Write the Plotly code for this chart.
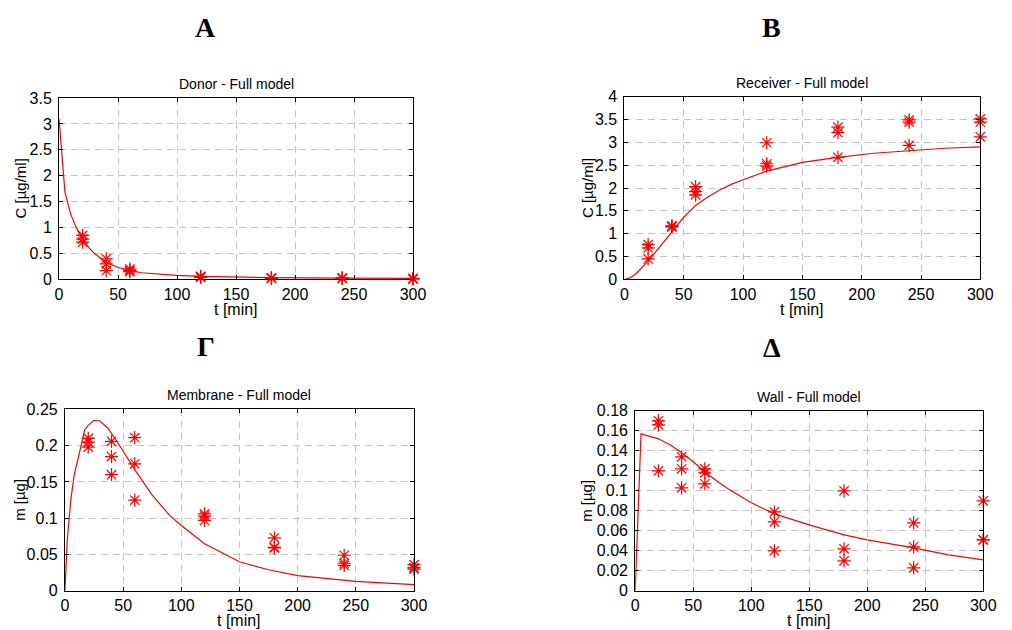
import plotly.graph_objects as go

# Sampling times of the measurements (min), three replicates per time
t_obs = [20, 40, 60, 120, 180, 240, 300]

# Donor compartment concentration C [µg/ml]
donor_obs = [
    [0.85, 0.78, 0.72],
    [0.40, 0.30, 0.17],
    [0.20, 0.17, 0.15],
    [0.06, 0.05, 0.04],
    [0.03, 0.03, 0.02],
    [0.03, 0.02, 0.02],
    [0.02, 0.01, 0.01],
]
donor_t = [0, 5, 10, 15, 20, 25, 30, 40, 50, 60, 70, 80, 100, 120, 150, 180, 240, 300]
donor_fit = [3.1, 1.68, 1.25, 0.98, 0.78, 0.62, 0.5, 0.33, 0.23, 0.17, 0.13, 0.11,
             0.08, 0.06, 0.045, 0.035, 0.025, 0.02]

# Receiver compartment concentration C [µg/ml]
receiver_obs = [
    [0.76, 0.69, 0.45],
    [1.17, 1.16, 1.15],
    [2.03, 1.92, 1.85],
    [2.99, 2.53, 2.48],
    [3.33, 3.21, 2.67],
    [3.49, 3.44, 2.93],
    [3.51, 3.44, 3.12],
]
receiver_t = [0, 5, 10, 20, 30, 40, 50, 60, 70, 80, 90, 100, 120, 150, 180, 210, 240, 270, 300]
receiver_fit = [0, 0.04, 0.13, 0.40, 0.72, 1.04, 1.36, 1.62, 1.80, 1.95, 2.08, 2.18, 2.37,
                2.56, 2.67, 2.76, 2.82, 2.87, 2.9]

# Amount retained in the membrane m [µg]
membrane_obs = [
    [0.210, 0.205, 0.198],
    [0.206, 0.185, 0.160],
    [0.211, 0.175, 0.125],
    [0.106, 0.103, 0.097],
    [0.073, 0.060, 0.059],
    [0.049, 0.038, 0.035],
    [0.036, 0.032, 0.030],
]
membrane_t = [0, 2, 5, 8, 12, 17, 20, 25, 30, 37, 45, 50, 60, 75, 90, 100, 120, 150,
              175, 200, 250, 300]
membrane_fit = [0, 0.07, 0.125, 0.16, 0.187, 0.222, 0.228, 0.235, 0.234, 0.224, 0.205,
                0.192, 0.167, 0.132, 0.104, 0.090, 0.065, 0.040, 0.029, 0.021, 0.013,
                0.0085]

# Amount adsorbed on the cell wall m [µg]
wall_obs = [
    [0.170, 0.166, 0.120],
    [0.134, 0.122, 0.103],
    [0.122, 0.118, 0.107],
    [0.079, 0.069, 0.040],
    [0.100, 0.042, 0.030],
    [0.068, 0.044, 0.023],
    [0.090, 0.051, 0.051],
]
wall_t = [0, 5, 20, 30, 40, 50, 60, 70, 80, 100, 120, 150, 180, 200, 240, 270, 300]
wall_fit = [0, 0.157, 0.152, 0.146, 0.138, 0.129, 0.119, 0.110, 0.102, 0.088, 0.077,
            0.066, 0.056, 0.051, 0.043, 0.036, 0.031]

titles = ["Donor - Full model", "Receiver - Full model",
          "Membrane - Full model", "Wall - Full model"]
ylabels = ["C [µg/ml]", "C [µg/ml]", "m [µg]", "m [µg]"]
letters = ["A", "B", "Γ", "Δ"]
y_ranges = [[0, 3.5], [0, 4], [0, 0.25], [0, 0.18]]
y_dticks = [0.5, 0.5, 0.05, 0.02]

W, H = 1012, 630
# plot boxes in pixels: (left, right, top, bottom)
boxes = [(56, 416, 92.5, 279), (631, 993, 91, 279),
         (62, 417, 412.5, 599), (642, 996, 414, 599)]
# horizontal centre of each rotated y-axis title, in pixels
ylabel_x = [17, 593, 15, 593]

panels = [
    (donor_obs, donor_t, donor_fit),
    (receiver_obs, receiver_t, receiver_fit),
    (membrane_obs, membrane_t, membrane_fit),
    (wall_obs, wall_t, wall_fit),
]

RED = "#ff0000"
fig = go.Figure()
layout = dict(
    width=W, height=H, margin=dict(l=0, r=0, t=0, b=0),
    paper_bgcolor="white", plot_bgcolor="white", showlegend=False,
    font=dict(family="Liberation Sans, Arial, sans-serif", size=16, color="black"),
)
annotations = []

for i, ((obs, tf, yf), box) in enumerate(zip(panels, boxes)):
    n = i + 1
    xa = "x" if n == 1 else f"x{n}"
    ya = "y" if n == 1 else f"y{n}"
    l, r, top, bot = box
    xdom = [l / W, r / W]
    ydom = [1 - bot / H, 1 - top / H]

    xs, ys = [], []
    for t, reps in zip(t_obs, obs):
        for v in reps:
            xs.append(t)
            ys.append(v)

    fig.add_trace(go.Scatter(x=tf, y=yf, mode="lines",
                             line=dict(color=RED, width=1.2),
                             xaxis=xa, yaxis=ya))
    fig.add_trace(go.Scatter(x=xs, y=ys, mode="markers",
                             marker=dict(symbol="asterisk-open", size=11, color=RED,
                                         line=dict(color=RED, width=1.2)),
                             xaxis=xa, yaxis=ya, cliponaxis=False))

    axis_common = dict(
        showline=True, linecolor="black", linewidth=1, mirror="ticks",
        ticks="inside", ticklen=4, tickcolor="black",
        showgrid=True, gridcolor="#c4c4c4", gridwidth=1, griddash="7px,5px",
        zeroline=False, tickfont=dict(size=16),
    )
    layout["xaxis" if n == 1 else f"xaxis{n}"] = dict(
        domain=xdom, range=[0, 300], tick0=0, dtick=50,
        anchor=ya, **axis_common)
    layout["yaxis" if n == 1 else f"yaxis{n}"] = dict(
        domain=ydom, range=y_ranges[i], tick0=0, dtick=y_dticks[i],
        anchor=xa, ticklabelstandoff=3, **axis_common)

    cx = (l + r) / 2
    # panel title
    annotations.append(dict(text=titles[i], x=cx / W, y=1 - (top - 4) / H,
                            xref="paper", yref="paper", xanchor="center",
                            yanchor="bottom", showarrow=False,
                            font=dict(size=14)))
    # x-axis title
    annotations.append(dict(text="t [min]", x=cx / W, y=1 - (bot + 20) / H,
                            xref="paper", yref="paper", xanchor="center",
                            yanchor="top", showarrow=False,
                            font=dict(size=16)))
    # y-axis title
    annotations.append(dict(text=ylabels[i], x=ylabel_x[i] / W,
                            y=1 - (top + bot) / 2 / H,
                            xref="paper", yref="paper", xanchor="center",
                            yanchor="middle", showarrow=False, textangle=-90,
                            font=dict(size=15)))

# panel letters
letter_pos = [(205, 20), (781, 20), (205, 348), (781, 349)]
for letter, (px, py) in zip(letters, letter_pos):
    annotations.append(dict(text=f"<b>{letter}</b>", x=px / W, y=1 - py / H,
                            xref="paper", yref="paper", xanchor="center",
                            yanchor="middle", showarrow=False,
                            font=dict(family="Liberation Serif, Times New Roman, serif",
                                      size=28, color="black")))

layout["annotations"] = annotations
fig.update_layout(**layout)
fig.write_html("out.html")
